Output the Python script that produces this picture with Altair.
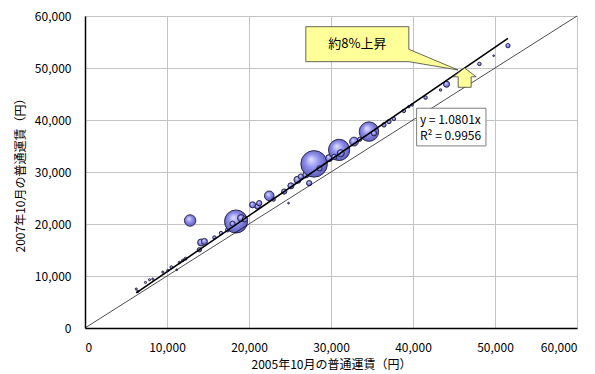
import altair as alt
import pandas as pd

# ---- data ----
fare_2005 = [6250, 6450, 7380, 7870, 8270, 9490, 10100, 10550, 11190, 11520, 11920, 12250,
             13950, 14160, 14560, 15780, 16590, 17400, 12820, 18420, 19030, 18000,
             20440, 21050, 21250, 22470, 24290, 25110, 25910, 26330, 26930, 27340, 24820,
             27940, 29770, 30990, 31190, 32810, 34630, 35240, 36460, 37070, 37670, 38890,
             39500, 39900, 41530, 43360, 44090, 48100, 49840, 51580,
             19500, 23000, 28600, 30400, 33500]
fare_2007 = [7490, 7030, 8760, 9280, 9410, 10760, 11070, 11680, 11200, 12600, 12990, 13310,
             15040, 16440, 16640, 17400, 18250, 18880, 20670, 20480, 21130, 20040,
             23690, 23360, 24010, 25420, 26240, 27340, 28490, 29120, 29450, 27850, 24010,
             31560, 32660, 34250, 33620, 35850, 37770, 37460, 39050, 39690, 40210, 41740,
             42580, 42900, 44300, 45780, 46880, 50780, 52370, 54300,
             20900, 24700, 30700, 32900, 36300]
volume = [1.5, 1.5, 1.5, 1.5, 1.5, 1.5, 1.5, 3, 1, 2, 2, 3,
          6, 16, 12, 4, 4, 6, 42, 170, 16, 9,
          12, 9, 9, 30, 9, 12, 16, 9, 12, 9, 1,
          225, 16, 144, 16, 25, 121, 9, 6, 6, 4, 4,
          2, 2, 4, 2, 12, 4, 1, 6,
          9, 4, 9, 9, 6]

SLOPE = 1.0801
R2 = 0.9956
axis_ticks = [0, 10000, 20000, 30000, 40000, 50000, 60000]
x_title = "2005年10月の普通運賃（円）"
y_title = "2007年10月の普通運賃（円）"
callout_text = "約8%上昇"
eq_lines = ["y = 1.0801x", "R² = 0.9956"]

FONT = "Noto Sans CJK JP"

df = pd.DataFrame({"x": fare_2005, "y": fare_2007, "v": volume})
diag = pd.DataFrame({"x": [axis_ticks[0], axis_ticks[-1]], "y": [axis_ticks[0], axis_ticks[-1]]})
xmin, xmax = min(fare_2005), max(fare_2005)
trend = pd.DataFrame({"x": [xmin, xmax], "y": [xmin * SLOPE, xmax * SLOPE]})

X = alt.X("x:Q", scale=alt.Scale(domain=[0, 60000], nice=False),
          axis=alt.Axis(values=axis_ticks, format=",d", title=x_title))
Y = alt.Y("y:Q", scale=alt.Scale(domain=[0, 60000], nice=False),
          axis=alt.Axis(values=axis_ticks, format=",d", title=y_title))

grad = alt.RadialGradient(
    gradient="radial",
    stops=[alt.GradientStop(offset=0, color="#e4e4ff"),
           alt.GradientStop(offset=0.4, color="#9494f0"),
           alt.GradientStop(offset=1, color="#4a4aa8")],
    x1=0.38, y1=0.32, r1=0, x2=0.5, y2=0.5, r2=0.62)

bubbles = alt.Chart(df).mark_circle(
    fill=grad, stroke="#202040", strokeWidth=0.9, opacity=1
).encode(
    x=X, y=Y,
    size=alt.Size("v:Q", scale=alt.Scale(domain=[0, 225], range=[0, 707]), legend=None),
)

diag_line = alt.Chart(diag).mark_line(color="#000000", strokeWidth=0.7).encode(x=X, y=Y)
trend_line = alt.Chart(trend).mark_line(color="#000000", strokeWidth=1.6).encode(x=X, y=Y)

# equation box
eq_box_df = pd.DataFrame({"x": [40440], "x2": [48900], "y": [42260], "y2": [35020]})
eq_box = alt.Chart(eq_box_df).mark_rect(fill="white", stroke="#7f7f7f", strokeWidth=1).encode(
    x=X, x2="x2:Q", y=Y, y2="y2:Q")
eq_df = pd.DataFrame({"x": [40840, 40840], "y": [40020, 36850], "t": eq_lines})
eq_text = alt.Chart(eq_df).mark_text(align="left", baseline="middle", font=FONT,
                                     fontSize=12, color="black").encode(x=X, y=Y, text="t:N")

# callout (box with tail), drawn as a custom symbol (units of 100px)
callout_path = ("M-0.515,-0.175 L0.515,-0.175 L0.515,0.051 L1.007,0.258 "
                "L0.515,0.175 L-0.515,0.175 Z")
call_df = pd.DataFrame({"x": [33210], "y": [54580], "t": [callout_text]})
callout = alt.Chart(call_df).mark_point(
    shape=callout_path, size=40000, filled=True, fill="#ffff99",
    stroke="#404040", strokeWidth=0.8, opacity=1
).encode(x=X, y=Y)
callout_txt = alt.Chart(call_df).mark_text(font=FONT, fontSize=13, color="black",
                                           baseline="middle").encode(x=X, y=Y, text="t:N")

# up arrow between the diagonal and the trend line
arrow_x = 46300
arrow_df = pd.DataFrame({"x": [arrow_x], "y": [(arrow_x + arrow_x * SLOPE) / 2]})
arrow_path = ("M0,-0.96 L1.15,-0.08 L0.65,-0.08 L0.65,0.97 L-0.65,0.97 "
              "L-0.65,-0.08 L-1.15,-0.08 Z")
arrow = alt.Chart(arrow_df).mark_point(
    shape=arrow_path, size=400, filled=True, fill="#ffff99",
    stroke="#404040", strokeWidth=0.8, opacity=1
).encode(x=X, y=Y)

chart = alt.layer(
    bubbles, diag_line, trend_line, eq_box, eq_text, callout, callout_txt, arrow
).properties(
    width=492, height=312,
    autosize=alt.AutoSizeParams(type="none"),
    padding={"left": 77, "top": 8, "right": 9, "bottom": 46},
).configure_view(
    stroke="#a0a0a0", strokeWidth=1
).configure_axis(
    domainColor="#000000", domainWidth=1.5,
    gridColor="#c4c4c4", gridWidth=1,
    ticks=False,
    labelFont=FONT, labelFontSize=12, labelColor="#000000",
    titleFont=FONT, titleFontSize=12, titleColor="#000000", titleFontWeight="normal",
).configure_axisX(
    labelPadding=14, titlePadding=6,
).configure_axisY(
    labelPadding=14, titlePadding=7,
)

chart.save("out.html", embed_options={"renderer": "svg", "actions": False})
